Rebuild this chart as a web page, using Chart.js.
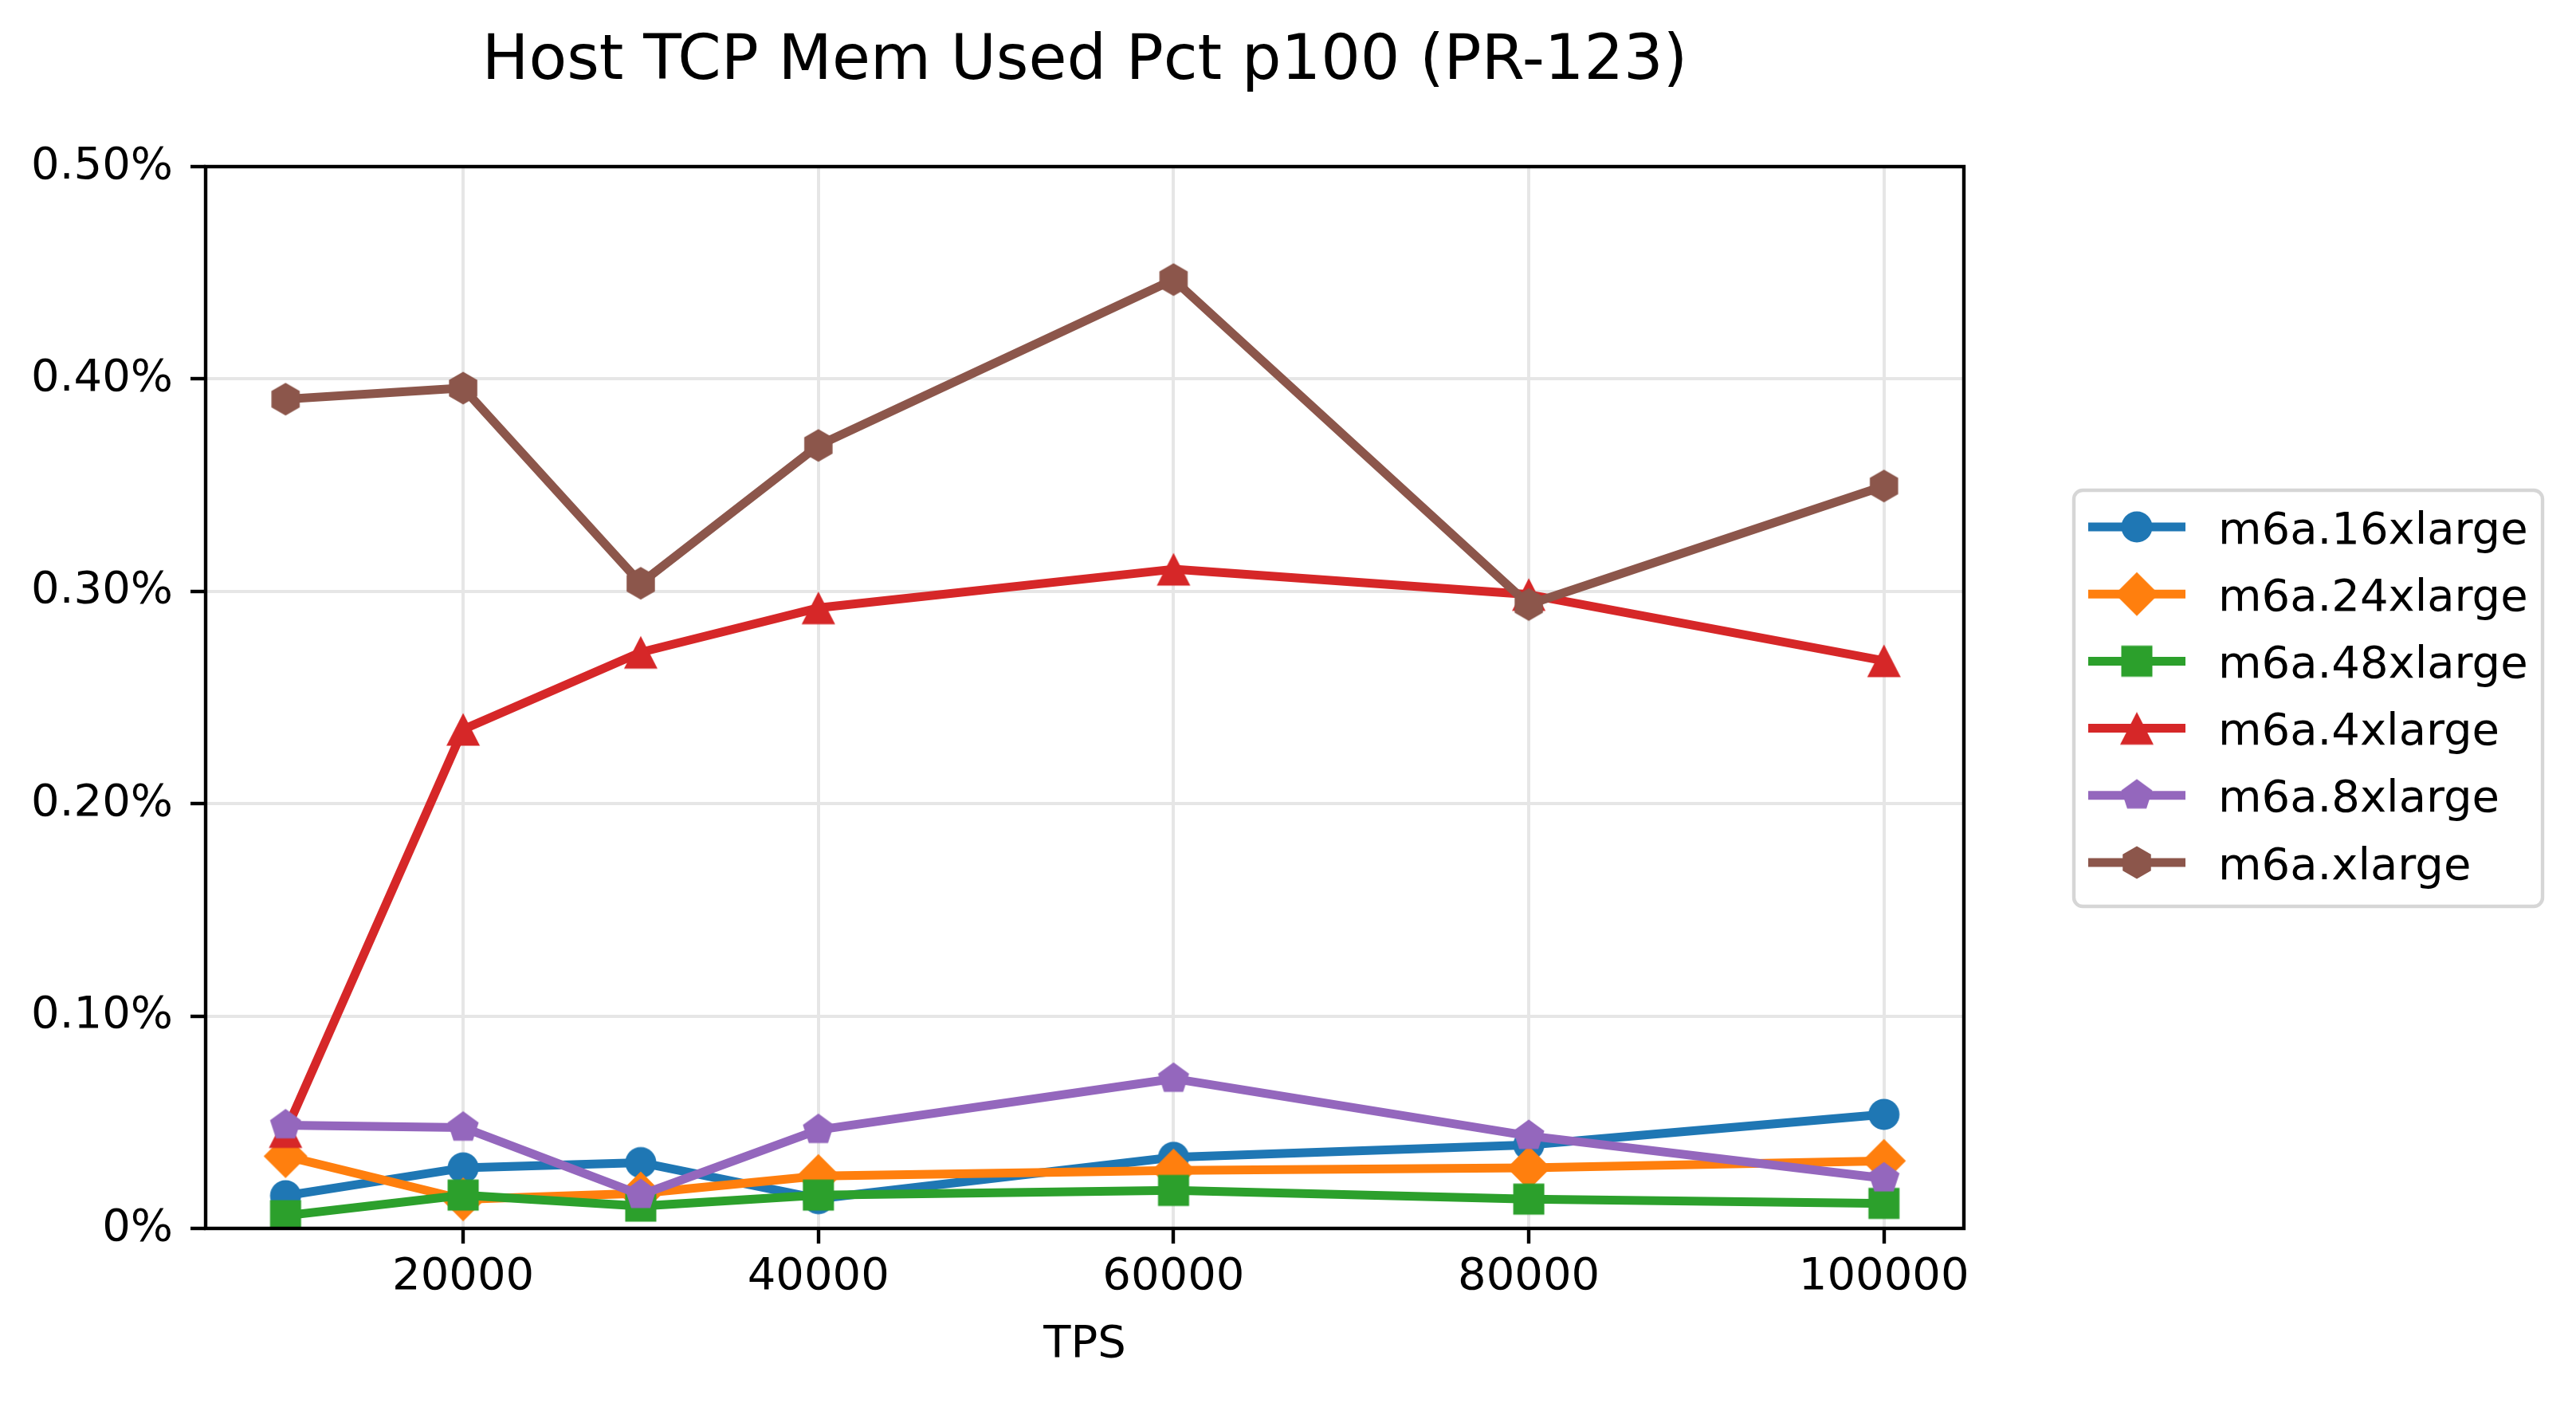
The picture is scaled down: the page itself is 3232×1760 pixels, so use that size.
<!DOCTYPE html>
<html>
<head>
<meta charset="utf-8">
<script src="https://cdn.jsdelivr.net/npm/chart.js@4/dist/chart.umd.min.js"></script>
<style>
  html, body { margin: 0; padding: 0; background: #fff; }
  #wrap { width: 3232px; height: 1760px; }
</style>
</head>
<body>
<div id="wrap"><canvas id="tcpChart" width="3232" height="1760"></canvas></div>
<script>
// values (y in percent)
const tps = [10000, 20000, 30000, 40000, 60000, 80000, 100000];
const xTicks = [20000, 40000, 60000, 80000, 100000];

const instanceNames = ['m6a.16xlarge', 'm6a.24xlarge', 'm6a.48xlarge', 'm6a.4xlarge', 'm6a.8xlarge', 'm6a.xlarge'];

const m6a16xlarge = [0.0154, 0.0285, 0.0310, 0.0140, 0.0335, 0.0393, 0.0537];
const m6a24xlarge = [0.0340, 0.0137, 0.0165, 0.0247, 0.0273, 0.0285, 0.0318];
const m6a48xlarge = [0.0060, 0.0157, 0.0105, 0.0157, 0.0179, 0.0138, 0.0118];
const m6a4xlarge  = [0.0456, 0.2350, 0.2713, 0.2922, 0.3104, 0.2985, 0.2673];
const m6a8xlarge  = [0.0486, 0.0475, 0.0158, 0.0464, 0.0705, 0.0436, 0.0236];
const m6axlarge   = [0.3905, 0.3957, 0.3038, 0.3687, 0.4468, 0.2938, 0.3496];

const seriesValues = [m6a16xlarge, m6a24xlarge, m6a48xlarge, m6a4xlarge, m6a8xlarge, m6axlarge];
const seriesColors = ['#1f77b4', '#ff7f0e', '#2ca02c', '#d62728', '#9467bd', '#8c564b'];
const seriesShapes = ['circle', 'diamond', 'square', 'triangle', 'pentagon', 'hexagon'];

const FONT = '"DejaVu Sans", "Liberation Sans", sans-serif';

// matplotlib-like marker sprites, used as Chart.js pointStyle
function makeMarker(shape, color) {
  const c = document.createElement('canvas');
  c.width = 64;
  c.height = 64;
  const ctx = c.getContext('2d');
  ctx.translate(32, 32);
  ctx.fillStyle = color;
  ctx.beginPath();
  if (shape === 'circle') {
    ctx.arc(0, 0, 19.5, 0, Math.PI * 2);
  } else if (shape === 'diamond') {
    ctx.moveTo(0, -27.5); ctx.lineTo(27.5, 0); ctx.lineTo(0, 27.5); ctx.lineTo(-27.5, 0);
  } else if (shape === 'square') {
    ctx.rect(-19.5, -19.5, 39, 39);
  } else if (shape === 'triangle') {
    ctx.moveTo(0, -20.5); ctx.lineTo(21, 20.5); ctx.lineTo(-21, 20.5);
  } else {
    const n = shape === 'pentagon' ? 5 : 6;
    const r = 20.5;
    for (let i = 0; i < n; i++) {
      const a = -Math.PI / 2 + i * 2 * Math.PI / n;
      const px = r * Math.cos(a), py = r * Math.sin(a);
      if (i === 0) ctx.moveTo(px, py); else ctx.lineTo(px, py);
    }
  }
  ctx.closePath();
  ctx.fill();
  return c;
}

const markers = seriesShapes.map((s, i) => makeMarker(s, seriesColors[i]));

const datasets = instanceNames.map((name, i) => ({
  label: name,
  data: tps.map((x, j) => ({ x: x, y: seriesValues[i][j] })),
  borderColor: seriesColors[i],
  backgroundColor: seriesColors[i],
  borderWidth: 11,
  borderJoinStyle: 'round',
  borderCapStyle: 'square',
  pointStyle: markers[i],
  pointRadius: 20,
  pointHoverRadius: 20,
  tension: 0,
  fill: false,
  clip: 0,
  order: instanceNames.length - i   // later series drawn on top, like matplotlib
}));

// white page + top/right spines + title + boxed legend
const decorations = {
  id: 'decorations',
  beforeDraw(chart) {
    const ctx = chart.ctx;
    ctx.save();
    ctx.fillStyle = '#fff';
    ctx.fillRect(0, 0, chart.width, chart.height);
    ctx.restore();
  },
  afterDatasetsDraw(chart) {
    const { ctx, chartArea: a } = chart;
    ctx.save();
    ctx.strokeStyle = '#000';
    ctx.lineWidth = 4.4;
    ctx.lineJoin = 'miter';
    ctx.strokeRect(a.left, a.top, a.right - a.left, a.bottom - a.top);
    ctx.restore();
  },
  afterDraw(chart) {
    const { ctx, chartArea: a } = chart;
    ctx.save();
    // title
    ctx.fillStyle = '#000';
    ctx.font = '78px ' + FONT;
    ctx.textAlign = 'center';
    ctx.textBaseline = 'alphabetic';
    ctx.fillText('Host TCP Mem Used Pct p100 (PR-123)', (a.left + a.right) / 2, 99);

    // legend frame
    const bx = 2602, by = 615, bw = 588, bh = 522, r = 11;
    ctx.beginPath();
    ctx.moveTo(bx + r, by);
    ctx.arcTo(bx + bw, by, bx + bw, by + bh, r);
    ctx.arcTo(bx + bw, by + bh, bx, by + bh, r);
    ctx.arcTo(bx, by + bh, bx, by, r);
    ctx.arcTo(bx, by, bx + bw, by, r);
    ctx.closePath();
    ctx.fillStyle = '#fff';
    ctx.fill();
    ctx.strokeStyle = '#d6d6d6';
    ctx.lineWidth = 4.4;
    ctx.stroke();

    // legend entries
    ctx.font = '56px ' + FONT;
    ctx.textAlign = 'left';
    chart.data.datasets.forEach((ds, i) => {
      const y = 661 + i * 84.2;
      ctx.strokeStyle = ds.borderColor;
      ctx.lineWidth = 11;
      ctx.lineCap = 'butt';
      ctx.beginPath();
      ctx.moveTo(2620, y);
      ctx.lineTo(2742, y);
      ctx.stroke();
      const m = ds.pointStyle;
      ctx.drawImage(m, 2681 - m.width / 2, y - m.height / 2);
      ctx.fillStyle = '#000';
      ctx.fillText(ds.label, 2783, y + 20.5);
    });
    ctx.restore();
  }
};

const tickFont = { family: FONT, size: 56 };

new Chart(document.getElementById('tcpChart').getContext('2d'), {
  type: 'line',
  data: { datasets },
  options: {
    responsive: false,
    animation: false,
    devicePixelRatio: 1,
    layout: { padding: { left: 0, top: 209, right: 768, bottom: 0 } },
    plugins: {
      legend: { display: false },
      title: { display: false },
      tooltip: { enabled: false }
    },
    scales: {
      x: {
        type: 'linear',
        min: 5500,
        max: 104500,
        afterBuildTicks: (scale) => {
          scale.ticks = xTicks.map(v => ({ value: v }));
        },
        afterFit: (scale) => { scale.height = 219; },
        ticks: {
          color: '#000',
          font: tickFont,
          padding: 9,
          maxRotation: 0,
          autoSkip: false,
          callback: (v) => String(v)
        },
        grid: {
          color: '#e6e6e6',
          lineWidth: 4,
          tickColor: '#000',
          tickWidth: 4.4,
          tickLength: 19
        },
        border: { display: false },
        title: {
          display: true,
          text: 'TPS',
          color: '#000',
          font: { family: FONT, size: 56 },
          padding: { top: 0, bottom: 39 }
        }
      },
      y: {
        type: 'linear',
        min: 0,
        max: 0.5,
        afterFit: (scale) => { scale.width = 258; },
        ticks: {
          stepSize: 0.1,
          color: '#000',
          font: tickFont,
          padding: 22,
          callback: (v) => (v === 0 ? '0%' : v.toFixed(2) + '%')
        },
        grid: {
          color: '#e6e6e6',
          lineWidth: 4,
          tickColor: '#000',
          tickWidth: 4.4,
          tickLength: 19
        },
        border: { display: false }
      }
    }
  },
  plugins: [decorations]
});
</script>
</body>
</html>
